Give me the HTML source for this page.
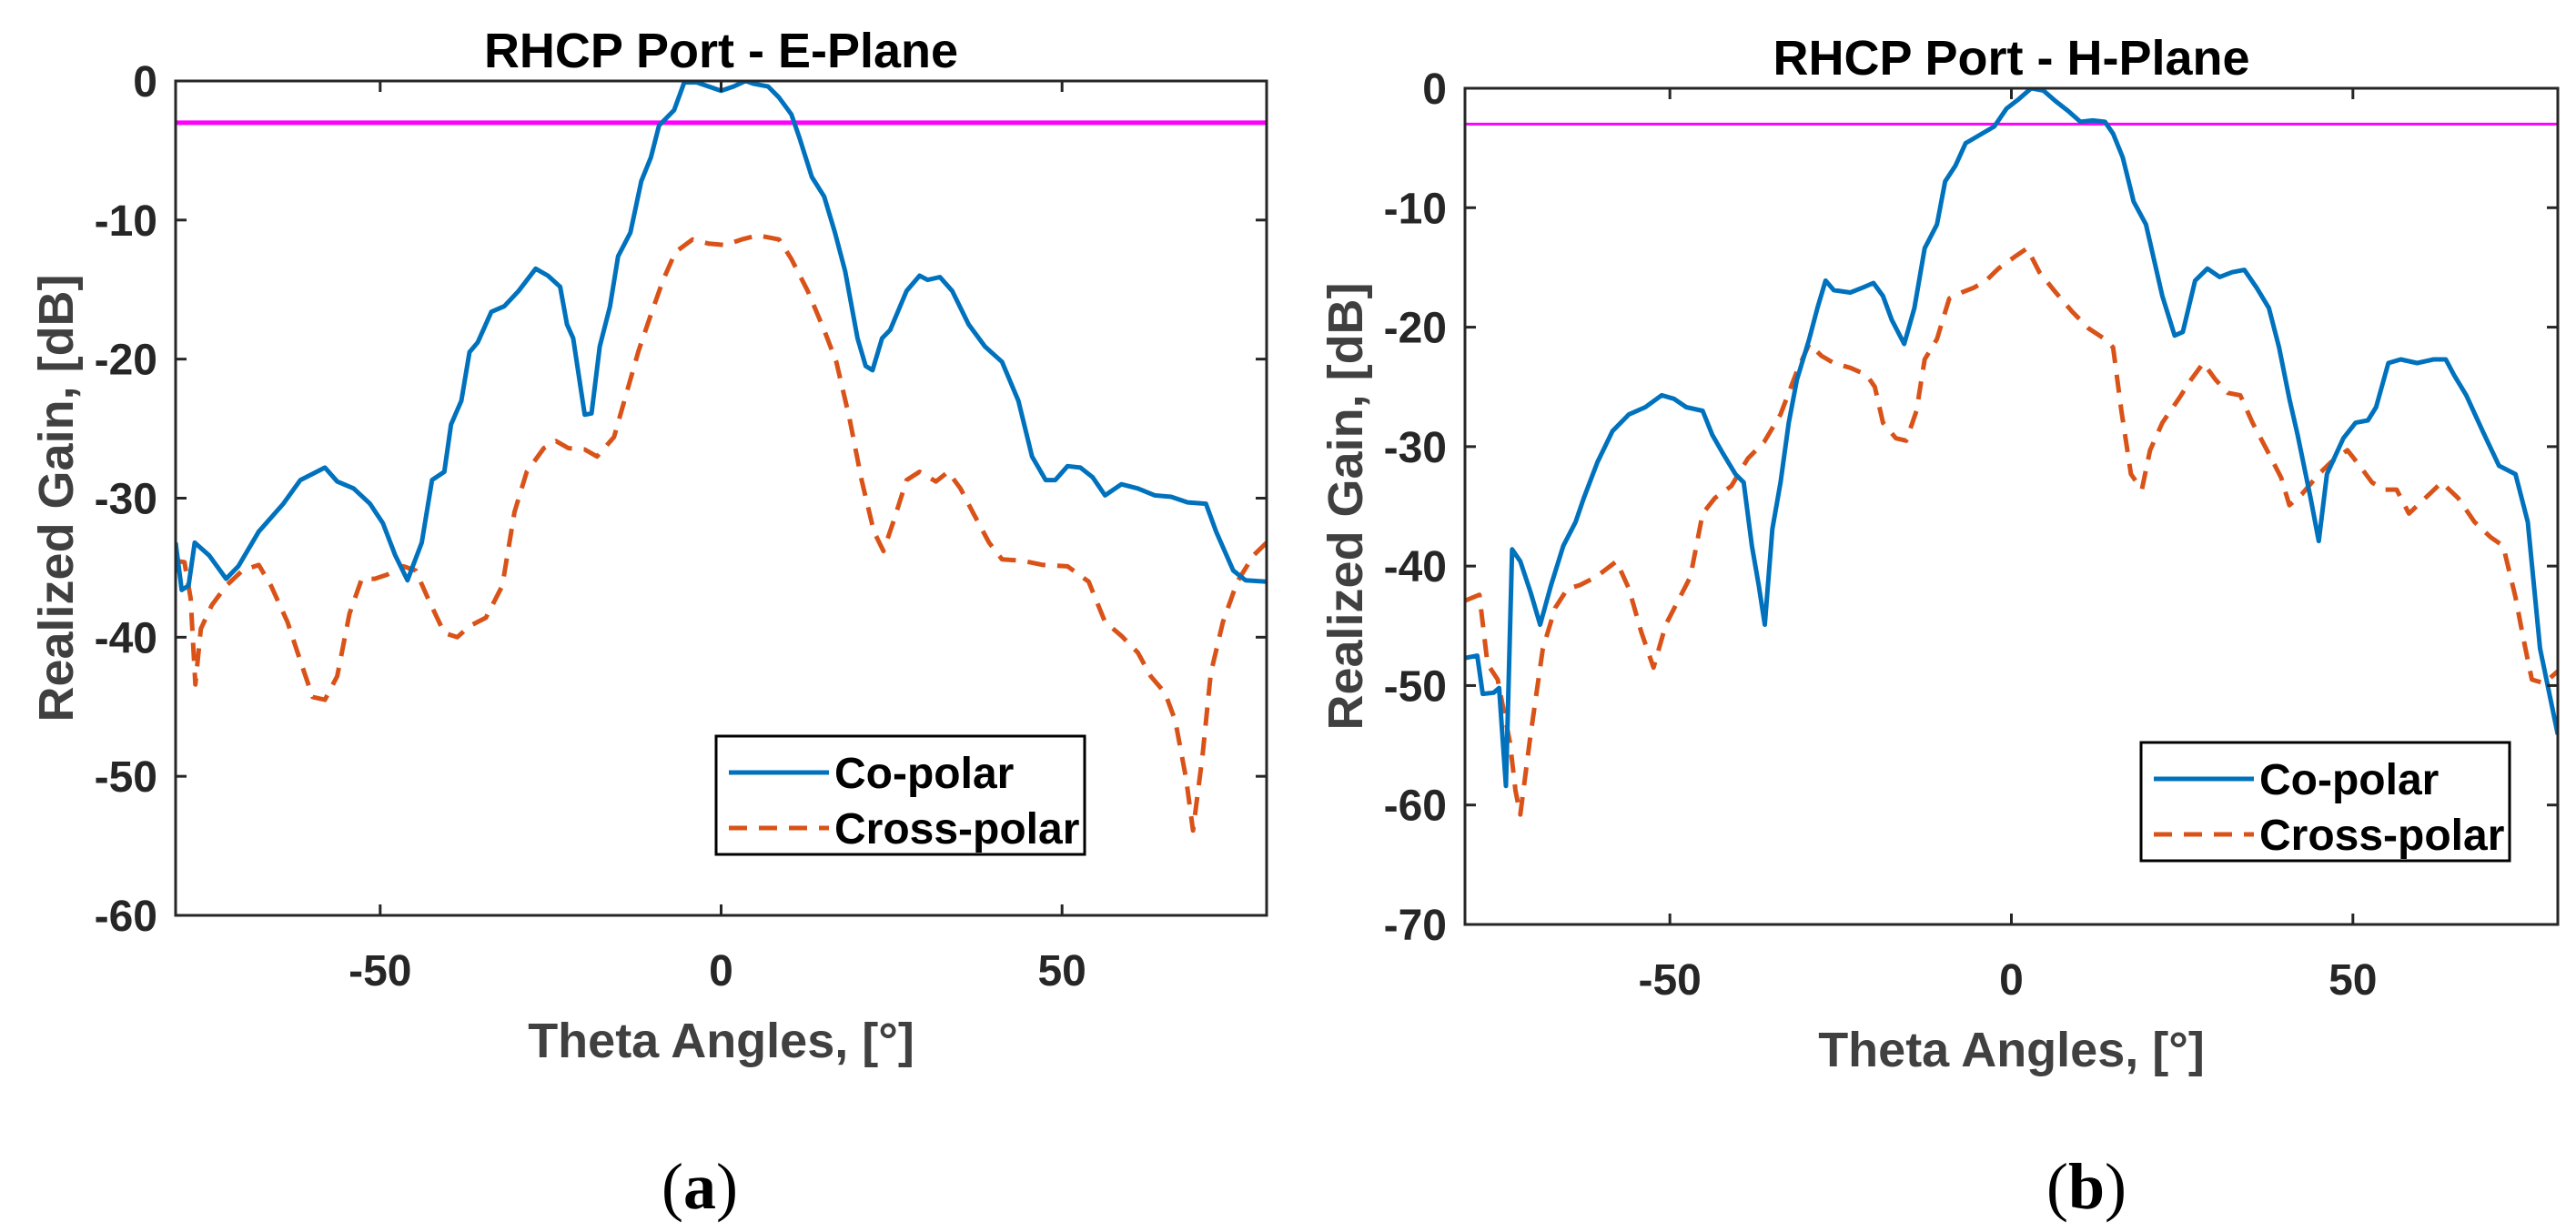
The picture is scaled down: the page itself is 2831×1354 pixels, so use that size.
<!DOCTYPE html>
<html><head><meta charset="utf-8"><style>
html,body{margin:0;padding:0;background:#fff;}
svg{display:block;font-family:"Liberation Sans",Arial,sans-serif;}
</style></head><body>
<svg id="fig" width="2831" height="1354" viewBox="0 0 2831 1354" xmlns="http://www.w3.org/2000/svg">
<rect width="2831" height="1354" fill="#fff"/>
</svg>
<script>
// ---- Chart (a) E-plane data ----
const eCoX = [-80,-79.1,-78.1,-77.2,-75.1,-72.6,-70.8,-67.8,-64.2,-61.7,-58.1,-56.3,-53.9,-51.5,-49.6,-47.8,-46.0,-43.9,-42.4,-40.6,-39.6,-38.1,-36.9,-35.7,-33.7,-31.8,-29.7,-27.2,-25.4,-23.6,-22.6,-21.7,-20.0,-19.0,-17.8,-16.3,-15.1,-13.3,-11.7,-10.3,-9.1,-6.9,-5.4,-3.6,-1.8,0,1.8,3.6,4.8,6.9,8.5,10.3,11.5,13.3,15.1,16.7,18.2,20.0,21.2,22.2,23.6,24.8,26.0,27.2,29.1,30.3,32.1,33.9,36.3,38.7,41.2,43.6,45.6,47.6,49.0,50.8,52.7,54.5,56.3,58.7,61.1,63.6,66.0,68.4,71.1,72.6,75.1,76.9,80];
const eCoY = [-33.2,-36.6,-36.3,-33.2,-34.1,-35.8,-34.9,-32.4,-30.4,-28.7,-27.8,-28.8,-29.3,-30.4,-31.8,-34.1,-35.9,-33.2,-28.7,-28.1,-24.7,-23.0,-19.5,-18.8,-16.6,-16.2,-15.1,-13.5,-14.0,-14.8,-17.5,-18.5,-24.0,-23.9,-19.1,-16.2,-12.6,-10.9,-7.2,-5.5,-3.2,-2.1,-0.1,-0.1,-0.4,-0.7,-0.4,0,-0.2,-0.4,-1.2,-2.4,-4.1,-6.9,-8.3,-10.9,-13.7,-18.5,-20.5,-20.8,-18.5,-17.9,-16.5,-15.1,-14.0,-14.3,-14.1,-15.1,-17.5,-19.1,-20.2,-23.0,-27.0,-28.7,-28.7,-27.7,-27.8,-28.5,-29.8,-29.0,-29.3,-29.8,-29.9,-30.3,-30.4,-32.4,-35.2,-35.9,-36.0];
const eXpX = [-80,-78.7,-77.8,-77.1,-76.3,-74.7,-72.6,-70.2,-67.8,-66.0,-63.6,-61.7,-59.9,-58.1,-56.3,-54.5,-52.7,-50.8,-49.0,-46.6,-44.8,-43.0,-40.6,-38.7,-36.9,-34.5,-32.1,-30.3,-28.5,-26.0,-24.2,-22.4,-20.0,-18.2,-15.7,-13.9,-12.1,-10.3,-8.5,-6.7,-4.2,-1.8,0.6,3.0,5.4,8.5,10.3,12.7,15.1,16.9,18.8,20.6,22.4,23.8,25.4,27.2,29.1,31.5,33.3,35.1,36.9,39.3,41.2,44.2,47.2,50.8,53.9,56.3,58.7,61.1,63.0,65.1,66.6,68.2,69.2,70.6,71.8,73.6,75.7,78.1,80];
const eXpY = [-34.5,-34.6,-37.2,-43.4,-39.4,-37.7,-36.3,-35.2,-34.8,-36.3,-38.9,-41.7,-44.3,-44.5,-42.8,-38.3,-35.8,-35.8,-35.5,-34.9,-35.2,-37.2,-39.7,-40.0,-39.2,-38.6,-36.3,-31.0,-28.1,-26.4,-25.9,-26.4,-26.5,-27.0,-25.6,-22.5,-19.4,-16.8,-14.3,-12.3,-11.4,-11.7,-11.8,-11.4,-11.1,-11.4,-12.8,-15.1,-17.9,-20.2,-24.2,-28.7,-32.4,-33.8,-31.5,-28.7,-28.1,-28.8,-28.1,-29.3,-31.0,-33.2,-34.4,-34.5,-34.8,-34.9,-36.0,-38.9,-39.9,-41.1,-42.8,-44.0,-46.0,-50.2,-53.9,-48.5,-42.6,-38.9,-36.0,-34.1,-33.2];
// ---- Chart (b) H-plane data ----
const hCoX = [-80,-78.2,-77.4,-75.8,-75.0,-74.0,-73.1,-71.9,-70.4,-69.0,-67.4,-65.6,-63.8,-62.6,-60.6,-58.4,-56.0,-53.6,-51.2,-49.4,-47.6,-45.2,-43.8,-42.2,-40.4,-39.2,-38.0,-37.0,-36.1,-35.0,-33.8,-32.6,-31.4,-29.6,-28.4,-27.2,-26.0,-23.6,-21.8,-20.2,-18.8,-17.5,-15.7,-14.2,-12.7,-10.9,-9.7,-8.2,-6.7,-4.3,-2.5,-0.7,1.1,2.9,4.7,6.5,8.3,10.1,11.9,13.7,14.9,16.3,17.9,19.7,20.9,22.1,23.9,25.1,26.9,28.7,30.5,32.3,34.1,35.9,37.7,39.2,40.7,41.9,43.8,45.0,46.2,48.6,50.4,52.2,53.4,55.2,57.0,59.4,61.8,63.6,64.8,66.6,69.0,71.4,73.8,75.6,77.4,80];
const hCoY = [-47.7,-47.5,-50.7,-50.6,-50.2,-58.4,-38.6,-39.6,-42.2,-44.9,-41.6,-38.3,-36.3,-34.3,-31.3,-28.7,-27.3,-26.7,-25.7,-26.0,-26.7,-27.0,-29.0,-30.6,-32.3,-33.0,-38.3,-41.6,-44.9,-36.9,-33.0,-28.0,-24.4,-21.0,-18.4,-16.1,-16.9,-17.1,-16.7,-16.3,-17.4,-19.4,-21.4,-18.4,-13.4,-11.4,-7.8,-6.5,-4.6,-3.8,-3.2,-1.7,-0.9,0,-0.2,-1.1,-1.9,-2.8,-2.7,-2.8,-3.8,-5.8,-9.5,-11.4,-14.4,-17.4,-20.7,-20.4,-16.1,-15.1,-15.8,-15.4,-15.2,-16.7,-18.4,-21.7,-26.0,-29.0,-34.3,-37.9,-32.3,-29.3,-28.0,-27.8,-26.7,-23.0,-22.7,-23.0,-22.7,-22.7,-24.0,-25.7,-28.7,-31.6,-32.3,-36.3,-46.9,-54.1];
const hXpX = [-80,-77.9,-76.7,-75.2,-74.3,-73.4,-72.6,-71.9,-70.4,-68.6,-66.8,-65.0,-63.2,-60.8,-57.8,-56.0,-54.2,-52.4,-50.6,-48.8,-47.0,-45.2,-43.4,-41.0,-38.6,-36.2,-33.8,-31.4,-29.6,-27.8,-26.0,-23.6,-21.2,-20.0,-18.8,-16.9,-15.4,-13.9,-12.7,-10.9,-9.1,-7.3,-5.5,-3.7,-1.9,0.5,2.3,4.1,6.5,8.9,11.3,13.7,14.9,16.1,17.5,19.1,20.3,22.1,24.5,26.3,28.1,29.9,31.7,33.5,35.3,37.7,39.5,40.7,42.5,45.0,46.8,49.2,51.0,52.8,54.6,56.4,58.2,60.6,63.0,65.4,67.8,70.2,72.0,73.8,75.0,76.2,78.0,80];
const hXpY = [-42.9,-42.4,-48.2,-49.5,-52.2,-54.8,-58.8,-60.8,-54.1,-46.9,-43.5,-41.9,-41.6,-40.9,-39.6,-41.9,-45.5,-48.5,-44.9,-42.9,-40.9,-35.6,-34.3,-33.3,-31.0,-29.6,-27.3,-23.7,-21.4,-22.4,-23.0,-23.4,-24.0,-25.0,-28.0,-29.3,-29.5,-27.0,-22.7,-21.0,-17.6,-17.1,-16.7,-16.1,-15.1,-14.1,-13.4,-15.4,-17.1,-18.7,-20.1,-21.0,-21.7,-27.0,-32.3,-33.6,-30.3,-28.0,-26.0,-24.4,-23.0,-24.4,-25.5,-25.7,-28.0,-30.6,-32.6,-34.9,-34.0,-32.3,-31.3,-30.3,-31.6,-33.0,-33.6,-33.6,-35.6,-34.3,-33.0,-34.3,-36.3,-37.6,-38.3,-42.6,-46.2,-49.5,-49.8,-48.8];
const xTicks = [-50, 0, 50];
const eYTicks = [0,-10,-20,-30,-40,-50,-60];
const hYTicks = [0,-10,-20,-30,-40,-50,-60,-70];
const refLevel = -3;

const NS = "http://www.w3.org/2000/svg";
const svg = document.getElementById('fig');
function mk(tag, attrs, parent){
  const e = document.createElementNS(NS, tag);
  for (const k in attrs) e.setAttribute(k, attrs[k]);
  (parent||svg).appendChild(e);
  return e;
}
function chart(cfg){
  const g = mk('g', {});
  
  
  const xs = v => cfg.L + (v - (-80)) / 160 * (cfg.R - cfg.L);
  const ys = v => cfg.T + (0 - v) / (0 - cfg.ymin) * (cfg.B - cfg.T);
  const cid = cfg.name + '-clip';
  const cp = mk('clipPath', {id: cid}, g);
  mk('rect', {x: cfg.L, y: cfg.T, width: cfg.R-cfg.L, height: cfg.B-cfg.T}, cp);
  const ref = mk('line', {x1: cfg.L, x2: cfg.R, y1: ys(refLevel), y2: ys(refLevel), stroke: '#ff00ff', 'stroke-width': cfg.refW}, g);
  
  
  function series(X, Y, color, dash, nm){
    let d = '';
    X.forEach((x,i) => { d += (i ? 'L' : 'M') + xs(x).toFixed(1) + ',' + ys(Y[i]).toFixed(1); });
    const p = mk('path', {d: d, fill: 'none', stroke: color, 'stroke-width': 5, 'stroke-linejoin': 'round', 'clip-path': 'url(#' + cid + ')'}, g);
    if (dash) p.setAttribute('stroke-dasharray', dash);
    
    
  }
  series(cfg.xpX, cfg.xpY, '#d95319', '20,13', 'cross-polar-line');
  series(cfg.coX, cfg.coY, '#0072bd', null, 'co-polar-line');
  const box = mk('rect', {x: cfg.L, y: cfg.T, width: cfg.R-cfg.L, height: cfg.B-cfg.T, fill: 'none', stroke: '#262626', 'stroke-width': 3}, g);
  
  
  xTicks.forEach(v => {
    const x = xs(v);
    mk('line', {x1: x, x2: x, y1: cfg.B, y2: cfg.B-12, stroke: '#262626', 'stroke-width': 3}, g);
    mk('line', {x1: x, x2: x, y1: cfg.T, y2: cfg.T+12, stroke: '#262626', 'stroke-width': 3}, g);
    const t = mk('text', {x: x, y: cfg.B + 77, 'text-anchor': 'middle', 'font-size': 48, 'font-weight': 'bold', fill: '#262626'}, g);
    t.textContent = v;
    
    
  });
  cfg.yTicks.forEach(v => {
    const y = ys(v);
    mk('line', {x1: cfg.L, x2: cfg.L+12, y1: y, y2: y, stroke: '#262626', 'stroke-width': 3}, g);
    mk('line', {x1: cfg.R, x2: cfg.R-12, y1: y, y2: y, stroke: '#262626', 'stroke-width': 3}, g);
    const t = mk('text', {x: cfg.L - 20, y: y + 17, 'text-anchor': 'end', 'font-size': 48, 'font-weight': 'bold', fill: '#262626'}, g);
    t.textContent = v;
    
    
  });
  const title = mk('text', {x: (cfg.L+cfg.R)/2, y: cfg.T - 15, 'text-anchor': 'middle', 'font-size': 54, 'font-weight': 'bold', fill: '#000'}, g);
  title.textContent = cfg.title;
  
  
  const xl = mk('text', {x: (cfg.L+cfg.R)/2, y: cfg.B + 156, 'text-anchor': 'middle', 'font-size': 54, 'font-weight': 'bold', fill: '#404040'}, g);
  xl.textContent = 'Theta Angles,  [°]';
  
  
  const yl = mk('text', {x: 0, y: 0, transform: 'translate(' + (cfg.L - 113) + ',' + ((cfg.T+cfg.B)/2) + ') rotate(-90)', 'text-anchor': 'middle', 'font-size': 54, 'font-weight': 'bold', fill: '#404040'}, g);
  yl.textContent = 'Realized Gain, [dB]';
  
  
  const lg = mk('g', {}, g);
  
  
  mk('rect', {x: cfg.lx, y: cfg.ly, width: 405, height: 130, fill: '#fff', stroke: '#000', 'stroke-width': 3}, lg);
  mk('line', {x1: cfg.lx+14, x2: cfg.lx+124, y1: cfg.ly+40, y2: cfg.ly+40, stroke: '#0072bd', 'stroke-width': 5}, lg);
  mk('line', {x1: cfg.lx+14, x2: cfg.lx+124, y1: cfg.ly+101, y2: cfg.ly+101, stroke: '#d95319', 'stroke-width': 5, 'stroke-dasharray': '20,13'}, lg);
  const l1 = mk('text', {x: cfg.lx+130, y: cfg.ly+57, 'font-size': 48, 'font-weight': 'bold', fill: '#000'}, lg);
  l1.textContent = 'Co-polar';
  
  
  const l2 = mk('text', {x: cfg.lx+130, y: cfg.ly+118, 'font-size': 48, 'font-weight': 'bold', fill: '#000'}, lg);
  l2.textContent = 'Cross-polar';
  
  
  const cap = mk('text', {x: cfg.capX, y: 1328, 'text-anchor': 'middle', 'font-size': 72, 'font-family': '"Liberation Serif",serif', fill: '#000'}, g);
  cap.innerHTML = '(<tspan font-weight="bold">' + cfg.cap + '</tspan>)';
  
  
}
chart({name:'e-plane-chart', L:193, R:1392, T:89, B:1006, ymin:-60, yTicks:eYTicks, coX:eCoX, coY:eCoY, xpX:eXpX, xpY:eXpY, title:'RHCP Port - E-Plane', lx:787, ly:809, capX:769, cap:'a', refW:5});
chart({name:'h-plane-chart', L:1610, R:2811, T:97, B:1016, ymin:-70, yTicks:hYTicks, coX:hCoX, coY:hCoY, xpX:hXpX, xpY:hXpY, title:'RHCP Port - H-Plane', lx:2353, ly:816, capX:2293, cap:'b', refW:3});
</script>
</body></html>
